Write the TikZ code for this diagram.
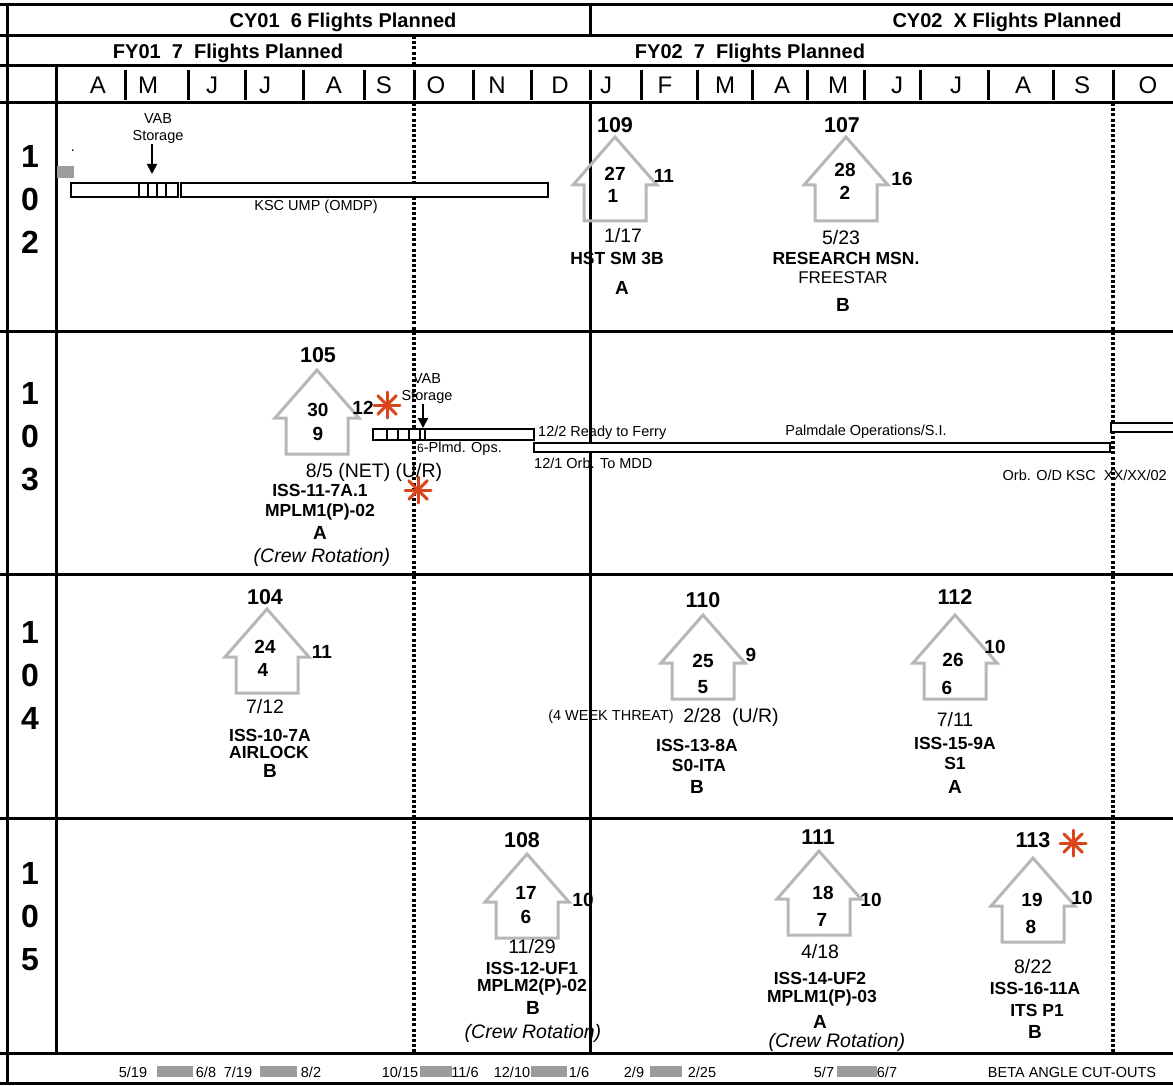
\documentclass[tikz,border=0pt]{standalone}
\usepackage{fontspec}
\setmainfont{Liberation Sans}
\usepackage{tikz}
\usetikzlibrary{arrows.meta}
\definecolor{OrbiterGray}{HTML}{B7B7B7}
\definecolor{StarRed}{HTML}{D9441A}
\definecolor{CutoutGray}{HTML}{9C9C9C}
\tikzset{
  gridrule/.style={line width=3pt},
  fyline/.style={line width=3.2pt,dash pattern=on 3pt off 2.2pt},
  stagebar/.style={draw,line width=2.4pt,fill=white},
  hatchline/.style={line width=1.6pt},
  storearrow/.style={-{Triangle[length=10pt,width=10pt]},line width=2pt},
  orbiter/.style={draw=OrbiterGray,line width=3pt,line join=miter},
  cutout/.style={fill=CutoutGray},
  starline/.style={draw=StarRed,line width=3pt,line cap=round},
  txt/.style={inner sep=0pt},
  hdr/.style={txt,font=\bfseries\fontsize{20}{22}\selectfont},
  monthlbl/.style={txt,font=\fontsize{24}{26}\selectfont},
  rowlbl/.style={txt,align=center,font=\bfseries\fontsize{32}{43}\selectfont},
  fltnum/.style={txt,font=\bfseries\fontsize{21.5}{24}\selectfont},
  innum/.style={txt,font=\bfseries\fontsize{19}{21}\selectfont},
  datelbl/.style={txt,font=\fontsize{19.5}{22}\selectfont},
  msnlbl/.style={txt,font=\bfseries\fontsize{17.5}{20}\selectfont},
  gradelbl/.style={txt,font=\bfseries\fontsize{19}{21}\selectfont},
  crewlbl/.style={txt,font=\itshape\fontsize{19.5}{22}\selectfont},
  smalllbl/.style={txt,font=\fontsize{14.5}{17}\selectfont}
}
% up-pointing orbiter outline, tip at (#1,#2)
\newcommand{\orbiter}[2]{\draw[orbiter] (#1,#2) -- ++(42,48) -- ++(-11,0) -- ++(0,36)
  -- ++(-62,0) -- ++(0,-36) -- ++(-11,0) -- cycle;}
\newcommand{\redstar}[2]{\foreach \a in {0,45,90,135}
  \draw[starline] (#1,#2) ++(\a:13) -- ++(\a+180:26);}

\begin{document}
\begin{tikzpicture}[x=1pt,y=-1pt]
  \useasboundingbox (0,0) rectangle (1173,1086);
  % grid of years, months and orbiter rows
  \draw[gridrule] (0,5) -- (1173,5);
  \draw[gridrule] (7,5) -- (7,1083);
  \draw[gridrule] (0,36) -- (1173,36);
  \draw[gridrule] (0,66) -- (1173,66);
  \draw[gridrule] (0,103) -- (1173,103);
  \foreach \y in {331,574,818,1053}
    \draw[gridrule] (0,\y) -- (1173,\y);
  \draw[gridrule] (0,1083) -- (1173,1083);
  \draw[gridrule] (56,66) -- (56,1053);
  \draw[gridrule] (590,5) -- (590,36);
  \draw[gridrule] (590,103) -- (590,1053);
  \foreach \x in {125,188,245,303,364,414,473,531,590,641,697,752,807,864,920,988,1053,1113}
    \draw[gridrule] (\x,70) -- (\x,100);
  \draw[fyline] (414,36) -- (414,66);
  \draw[fyline] (414,103) -- (414,1053);
  \draw[fyline] (1113,103) -- (1113,1053);

  \node[hdr] (cy01) at (343,22) {CY01\ \ 6 Flights Planned};
  \node[hdr] (cy02) at (1007,22) {CY02\ \ X Flights Planned};
  \node[hdr] (fy01) at (228,53) {FY01\ \ 7\ \ Flights Planned};
  \node[hdr] (fy02) at (750,53) {FY02\ \ 7\ \ Flights Planned};
  \foreach \m/\x in {A/98,M/148,J/212,J/265,A/334,S/384,O/436,N/497,D/560,
      J/606,F/665,M/725,A/782,M/838,J/897,J/956,A/1023,S/1082,O/1148}
    \node[monthlbl] (m\x) at (\x,85) {\m};

  \node[rowlbl] (r102) at (30,199) {1\\0\\2};
  \node[rowlbl] (r103) at (30,437) {1\\0\\3};
  \node[rowlbl] (r104) at (30,675) {1\\0\\4};
  \node[rowlbl] (r105) at (30,917) {1\\0\\5};

  % 102
  \fill[cutout] (57,166) rectangle (74,178);
  \node[smalllbl] (dot102) at (73,151) {.};
  \draw[stagebar] (71,183) rectangle (139,197);
  \draw[stagebar] (139,183) rectangle (178,197);
  \foreach \x in {148,157,166}
    \draw[hatchline] (\x,183) -- (\x,197);
  \draw[stagebar] (181,183) rectangle (548,197);
  \node[smalllbl,align=center] (vab102) at (158,129) {VAB\\Storage};
  \coordinate (vab102in) at (152,174);
  \draw[storearrow] (vab102.south -| vab102in) -- (vab102in);
  \node[smalllbl] (ump102) at (316,207) {KSC UMP (OMDP)};

  \orbiter{615}{137}
  \node[fltnum] (f109) at (615,125) {109};
  \node[innum] (a109) at (615,174) {27};
  \node[innum] (b109) at (613,196) {1};
  \node[innum] (s109) at (664,176) {11};
  \node[datelbl] (d109) at (623,236) {1/17};
  \node[msnlbl] (n109) at (617,258) {HST SM 3B};
  \node[gradelbl] (g109) at (622,288) {A};

  \orbiter{846}{137}
  \node[fltnum] (f107) at (842,125) {107};
  \node[innum] (a107) at (845,170) {28};
  \node[innum] (b107) at (845,193) {2};
  \node[innum] (s107) at (902,179) {16};
  \node[datelbl] (d107) at (841,238) {5/23};
  \node[msnlbl] (n107) at (846,258) {RESEARCH MSN.};
  \node[smalllbl,font=\fontsize{17}{20}\selectfont] (p107) at (843,278) {FREESTAR};
  \node[gradelbl] (g107) at (843,305) {B};

  % 103
  \draw[stagebar] (373,429) rectangle (425,440);
  \foreach \x in {387,398,409,420}
    \draw[hatchline] (\x,429) -- (\x,440);
  \draw[stagebar] (425,429) rectangle (534,440);
  \draw[stagebar] (534,443) rectangle (1110,452);
  \draw[stagebar] (1111,423) rectangle (1176,432);
  \node[smalllbl,align=center] (vab103) at (427,389) {VAB\\Storage};
  \coordinate (vab103in) at (423,428);
  \draw[storearrow] (vab103.south -| vab103in) -- (vab103in);
  \node[smalllbl,anchor=east] (ops103) at (502,449) {{\fontsize{12}{12}\selectfont\raisebox{2pt}{'},6}-Plmd. Ops.};
  \node[smalllbl,anchor=west] (fer103) at (538,433) {12/2 Ready to Ferry};
  \node[smalllbl] (pal103) at (866,432) {Palmdale Operations/S.I.};
  \node[smalllbl,anchor=west] (mdd103) at (534,463) {12/1 Orb. To MDD};
  \node[smalllbl,anchor=east] (ksc103) at (1167,475) {Orb. O/D KSC\ \ XX/XX/02};

  \orbiter{317}{370}
  \node[fltnum] (f105) at (318,355) {105};
  \node[innum] (a105) at (318,410) {30};
  \node[innum] (b105) at (318,434) {9};
  \node[innum] (s105) at (363,408) {12};
  \redstar{387}{405}
  \redstar{418}{490}
  \node[datelbl] (d105) at (374,472) {8/5 (NET) (U/R)};
  \node[msnlbl] (n105) at (320,490) {ISS-11-7A.1};
  \node[msnlbl] (p105) at (320,512) {MPLM1(P)-02};
  \node[gradelbl] (g105) at (320,533) {A};
  \node[crewlbl] (c105) at (322,557) {(Crew Rotation)};

  % 104
  \orbiter{267}{609}
  \node[fltnum] (f104) at (265,597) {104};
  \node[innum] (a104) at (265,647) {24};
  \node[innum] (b104) at (263,670) {4};
  \node[innum] (s104) at (322,652) {11};
  \node[datelbl] (d104) at (265,707) {7/12};
  \node[msnlbl] (n104) at (270,735) {ISS-10-7A};
  \node[msnlbl] (p104) at (269,752) {AIRLOCK};
  \node[gradelbl] (g104) at (270,771) {B};

  \orbiter{703}{615}
  \node[fltnum] (f110) at (703,600) {110};
  \node[innum] (a110) at (703,661) {25};
  \node[innum] (b110) at (703,687) {5};
  \node[innum] (s110) at (751,655) {9};
  \node[smalllbl] (w110) at (611,717) {(4 WEEK THREAT)};
  \node[datelbl] (d110) at (731,717) {2/28\ \ (U/R)};
  \node[msnlbl] (n110) at (697,745) {ISS-13-8A};
  \node[msnlbl] (p110) at (699,765) {S0-ITA};
  \node[gradelbl] (g110) at (697,787) {B};

  \orbiter{955}{615}
  \node[fltnum] (f112) at (955,597) {112};
  \node[innum] (a112) at (953,660) {26};
  \node[innum] (b112) at (947,688) {6};
  \node[innum] (s112) at (995,647) {10};
  \node[datelbl] (d112) at (955,720) {7/11};
  \node[msnlbl] (n112) at (955,743) {ISS-15-9A};
  \node[msnlbl] (p112) at (955,763) {S1};
  \node[gradelbl] (g112) at (955,787) {A};

  % 105
  \orbiter{527}{854}
  \node[fltnum] (f108) at (522,840) {108};
  \node[innum] (a108) at (526,893) {17};
  \node[innum] (b108) at (526,917) {6};
  \node[innum] (s108) at (583,900) {10};
  \node[datelbl] (d108) at (532,947) {11/29};
  \node[msnlbl] (n108) at (532,968) {ISS-12-UF1};
  \node[msnlbl] (p108) at (532,987) {MPLM2(P)-02};
  \node[gradelbl] (g108) at (533,1008) {B};
  \node[crewlbl] (c108) at (533,1033) {(Crew Rotation)};

  \orbiter{819}{851}
  \node[fltnum] (f111) at (818,837) {111};
  \node[innum] (a111) at (823,893) {18};
  \node[innum] (b111) at (822,920) {7};
  \node[innum] (s111) at (871,900) {10};
  \node[datelbl] (d111) at (820,952) {4/18};
  \node[msnlbl] (n111) at (820,978) {ISS-14-UF2};
  \node[msnlbl] (p111) at (822,998) {MPLM1(P)-03};
  \node[gradelbl] (g111) at (820,1022) {A};
  \node[crewlbl] (c111) at (837,1042) {(Crew Rotation)};

  \orbiter{1033}{858}
  \node[fltnum] (f113) at (1033,840) {113};
  \redstar{1073}{843}
  \node[innum] (a113) at (1032,900) {19};
  \node[innum] (b113) at (1031,927) {8};
  \node[innum] (s113) at (1082,898) {10};
  \node[datelbl] (d113) at (1033,967) {8/22};
  \node[msnlbl] (n113) at (1035,988) {ISS-16-11A};
  \node[msnlbl] (p113) at (1037,1010) {ITS P1};
  \node[gradelbl] (g113) at (1035,1032) {B};

  % beta angle cut-outs
  \foreach \xa/\xb in {157/193,260/297,420/452,531/567,650/682,837/877}
    \fill[cutout] (\xa,1066) rectangle (\xb,1077);
  \foreach \t/\x in {{5/19}/133,{6/8}/206,{7/19}/238,{8/2}/311,{10/15}/400,{11/6}/465,
      {12/10}/512,{1/6}/579,{2/9}/634,{2/25}/702,{5/7}/824,{6/7}/887}
    \node[smalllbl] (b\x) at (\x,1072) {\t};
  \node[smalllbl] (beta) at (1072,1072) {BETA ANGLE CUT-OUTS};
\end{tikzpicture}
\end{document}
